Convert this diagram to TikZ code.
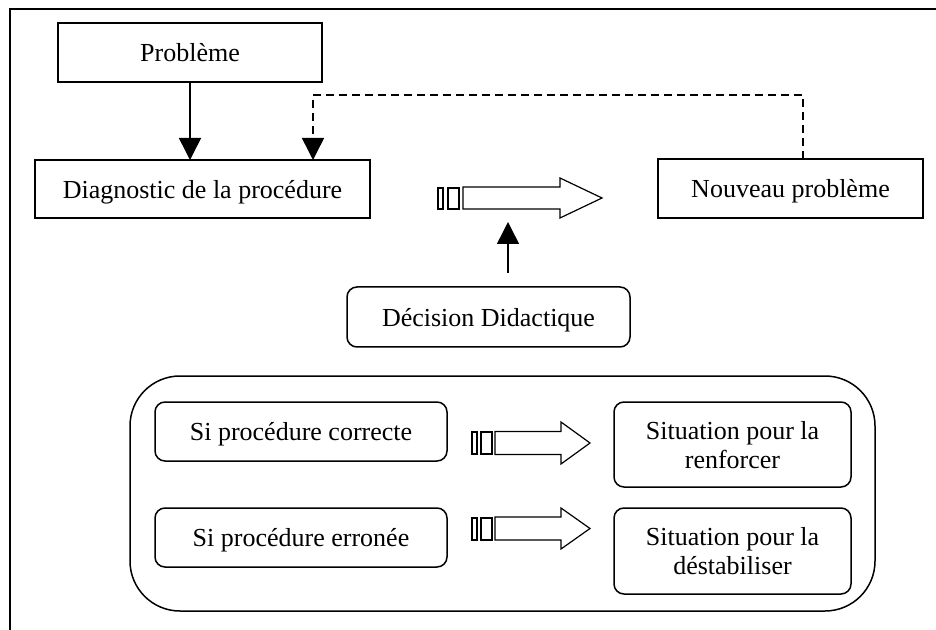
\documentclass[tikz,border=0pt]{standalone}
\usepackage{fontspec}
\setmainfont{Liberation Serif}
\usetikzlibrary{arrows.meta}
\begin{document}
\begin{tikzpicture}[x=0.5pt,y=-0.5pt,
  box/.style={draw, line width=0.75pt, inner sep=0pt, outer sep=0pt, align=center, text depth=0pt, font=\fontsize{13}{14.5}\selectfont},
  rbox/.style={box, rounded corners=5pt},
  arr/.style={line width=0.75pt, -{Triangle[width=11pt,length=11pt]}},
  darr/.style={arr, dash pattern=on 4pt off 2.5pt},
  blk/.style={draw, line width=0.6pt, fill=white, line join=miter}]
\useasboundingbox (0,0) rectangle (936,630);
% frame
\draw[line width=1.1pt] (10,630) -- (10,9) -- (936,9);
% top part
\node[box, minimum width=132pt, minimum height=29.5pt] (prob) at (190,52.5) {Problème};
\node[box, minimum width=167.5pt, minimum height=29pt] (diag) at (202.5,189) {Diagnostic de la procédure};
\node[box, minimum width=132.5pt, minimum height=29.5pt] (nouv) at (790.5,188.5) {Nouveau problème};
\node[rbox, minimum width=141.5pt, minimum height=30pt] (dec) at (488.5,317) {Décision Didactique};
% bottom group
\node[draw, line width=0.75pt, rounded corners=25pt, minimum width=372.5pt, minimum height=117.5pt, inner sep=0pt] (grp) at (502.5,493.5) {};
\node[rbox, minimum width=146pt, minimum height=29.5pt] (sic) at (301,431.5) {Si procédure correcte};
\node[rbox, minimum width=146pt, minimum height=29.5pt] (sie) at (301,537.5) {Si procédure erronée};
\node[rbox, minimum width=118.5pt, minimum height=42.5pt] (sitr) at (732.5,444.5) {Situation pour la\\renforcer};
\node[rbox, minimum width=118.5pt, minimum height=43pt] (sitd) at (732.5,551) {Situation pour la\\déstabiliser};
% arrows
\draw[arr] (prob.south) -- (prob.south |- diag.north);
\coordinate (dA) at ([xshift=6.25pt]nouv.north);
\coordinate (dB) at ([xshift=55.25pt]diag.north);
\draw[darr] (dA) -- (dA |- 0,95) -- (dB |- 0,95) -- (dB);
% main block arrow
\draw[blk] (438,188) rectangle (443,209);
\draw[blk] (448,188) rectangle (459,209);
\draw[blk] (463,187) -- (560,187) -- (560,178) -- (602,198) -- (560,218) -- (560,209) -- (463,209) -- cycle;
\coordinate (blkbot) at (508,222);
\coordinate (up0) at ([xshift=9.75pt,yshift=7pt]dec.north);
\draw[arr] (up0) -- (blkbot);
% row arrows
\draw[blk] (472,432) rectangle (477,454);
\draw[blk] (481,432) rectangle (492,454);
\draw[blk] (495,431.5) -- (561,431.5) -- (561,422) -- (590,443) -- (561,464) -- (561,454.5) -- (495,454.5) -- cycle;
\draw[blk] (472,518) rectangle (477,540);
\draw[blk] (481,518) rectangle (492,540);
\draw[blk] (495,517) -- (561,517) -- (561,508) -- (590,528.5) -- (561,549) -- (561,540) -- (495,540) -- cycle;
\end{tikzpicture}
\end{document}
